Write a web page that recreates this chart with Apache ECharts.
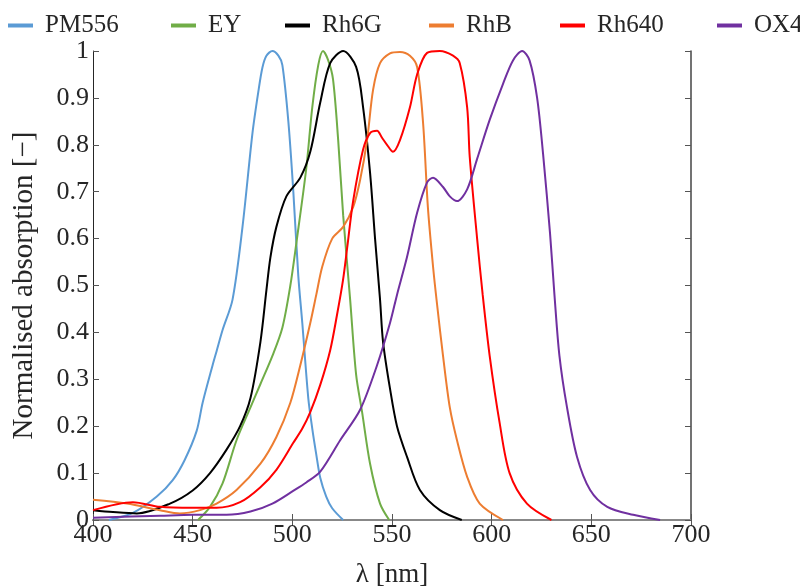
<!DOCTYPE html>
<html><head><meta charset="utf-8">
<script src="https://cdn.jsdelivr.net/npm/echarts@6/dist/echarts.min.js"></script>
<style>html,body{margin:0;padding:0;background:#fff}#c{width:800px;height:586px}</style>
</head><body><div id="c"></div>
<script>
const seriesNames = ['PM556','EY','Rh6G','RhB','Rh640','OX4'];
const seriesColors = ['#5B9BD5','#70AD47','#000000','#ED7D31','#FF0000','#7030A0'];

const pm556X = [408,420,432,440,446,452,455,460,462,465,470,475,480,483,485,487,490,493,495,498,500.5,503,505,508,510,512,514,517,520,525.5];
const pm556Y = [0,0.015,0.05,0.085,0.128,0.19,0.25,0.33,0.36,0.405,0.47,0.625,0.825,0.915,0.965,0.99,1.0,0.99,0.97,0.85,0.70,0.52,0.42,0.26,0.195,0.14,0.09,0.05,0.025,0];

const eyX = [452.7,458.7,465,472,479,484,490,495,499,502,507,510,513,515.4,518,520.4,523,525.5,529,532,535,539,544,548.6];
const eyY = [0,0.028,0.078,0.17,0.24,0.29,0.35,0.41,0.5,0.59,0.75,0.88,0.97,1.0,0.98,0.94,0.81,0.65,0.47,0.31,0.23,0.12,0.035,0];

const rh6gX = [400,410,422,438.6,450,458.7,467,473.8,479,484,487,489,492,497,504,509,514,519,525.5,532,535.5,539,541.5,544,545.5,549,552.5,557.5,564,574,585];
const rh6gY = [0.021,0.017,0.014,0.035,0.063,0.1,0.15,0.2,0.26,0.38,0.49,0.56,0.625,0.69,0.73,0.785,0.89,0.974,1.0,0.966,0.88,0.74,0.6,0.47,0.38,0.28,0.2,0.135,0.064,0.021,0];

const rhbX = [400,417,433.6,443.6,453.7,462,472,484,492,499,504,509,512,515,520,525.5,530.5,534,537.5,540.5,544,549,554,559,562.6,565.6,568,570.6,572.6,575.6,579,582.6,587.7,594,605.7];
const rhbY = [0.043,0.035,0.021,0.014,0.021,0.035,0.064,0.12,0.177,0.25,0.33,0.42,0.48,0.54,0.6,0.625,0.667,0.725,0.81,0.917,0.974,0.995,0.998,0.99,0.966,0.846,0.667,0.54,0.46,0.35,0.24,0.17,0.092,0.035,0];

const rh640X = [400,420,433.6,450,462,473.8,484,492,500.4,505,509,514,519,522.4,525.4,527.5,530.5,535.5,539,542.5,545,547.5,550.5,554,559,562.6,567.6,574,580.6,584,587.7,589,592.7,595.5,599,604,609,617.7,630];
const rh640Y = [0.021,0.038,0.028,0.026,0.026,0.038,0.07,0.107,0.164,0.195,0.23,0.288,0.362,0.437,0.511,0.58,0.68,0.79,0.825,0.83,0.815,0.80,0.785,0.81,0.88,0.95,0.996,1.0,0.99,0.974,0.88,0.774,0.6,0.48,0.35,0.207,0.1,0.035,0];

const ox4X = [400,433.6,450,467,479,490,500.4,507,514,524,534,542.5,549,552.5,557.5,562.6,567.6,570.6,575.6,579,582.6,587.7,592.7,599,605.7,610.7,615.3,619,622.8,625.8,629.3,631.5,634,637.8,642.8,649.4,658,671,684.5];
const ox4Y = [0.005,0.009,0.011,0.011,0.018,0.035,0.062,0.08,0.103,0.17,0.235,0.33,0.42,0.48,0.56,0.655,0.72,0.73,0.71,0.69,0.68,0.705,0.77,0.853,0.93,0.98,1.0,0.98,0.9,0.78,0.61,0.48,0.35,0.24,0.135,0.064,0.028,0.011,0];

const xTicks = [400,450,500,550,600,650,700];
const yTicks = [0,0.1,0.2,0.3,0.4,0.5,0.6,0.7,0.8,0.9,1];

const allX = [pm556X, eyX, rh6gX, rhbX, rh640X, ox4X];
const allY = [pm556Y, eyY, rh6gY, rhbY, rh640Y, ox4Y];

const legendLeft = [8,171,285,429,560,717];
const serif = 'Liberation Serif';

const chart = echarts.init(document.getElementById('c'), null, {renderer:'canvas'});
const tickStyle = {show:true, inside:true, length:6, lineStyle:{color:'#555', width:1}};
const series = seriesNames.map((n,i)=>({
  name:n, type:'line', xAxisIndex:0, yAxisIndex:0,
  data: allX[i].map((x,j)=>[x, allY[i][j]]),
  smooth:0.3, showSymbol:false, symbol:'none',
  lineStyle:{color:seriesColors[i], width:2}, itemStyle:{color:seriesColors[i]},
  clip:true, z:10+i
}));
chart.setOption({
  animation:false,
  backgroundColor:'#fff',
  legend: seriesNames.map((n,i)=>({
    data:[n], left:legendLeft[i], top:8, itemWidth:25, itemHeight:4, itemGap:0,
    icon:'rect', padding:[5,5,5,0],
    textStyle:{fontFamily:serif, fontSize:25, color:'#262626', padding:[0,0,0,7]}
  })),
  grid:{left:93, right:109, top:51, bottom:66, containLabel:false, outerBoundsMode:'none'},
  xAxis:[
    {type:'value', position:'bottom', min:400, max:700, interval:50,
     axisLine:{show:true, lineStyle:{color:'#262626', width:1}},
     axisTick:tickStyle, splitLine:{show:false},
     axisLabel:{fontFamily:serif, fontSize:26, color:'#262626', margin:2},
     name:'λ [nm]', nameLocation:'middle', nameGap:41,
     nameTextStyle:{fontFamily:serif, fontSize:27, color:'#262626'}},
    {type:'value', position:'top', min:400, max:700, interval:50,
     axisLine:{show:true, lineStyle:{color:'#888', width:2}},
     axisTick:tickStyle, axisLabel:{show:false}, splitLine:{show:false}}
  ],
  yAxis:[
    {type:'value', position:'left', min:0, max:1, interval:0.1,
     axisLine:{show:true, lineStyle:{color:'#262626', width:1}},
     axisTick:tickStyle, splitLine:{show:false},
     axisLabel:{fontFamily:serif, fontSize:26, color:'#262626', margin:4},
     name:'Normalised absorption [−]', nameLocation:'middle', nameGap:54,
     nameTextStyle:{fontFamily:serif, fontSize:29, color:'#262626'}},
    {type:'value', position:'right', min:0, max:1, interval:0.1,
     axisLine:{show:true, lineStyle:{color:'#444', width:1.5}},
     axisTick:tickStyle, axisLabel:{show:false}, splitLine:{show:false}}
  ],
  series: series
});
</script></body></html>
